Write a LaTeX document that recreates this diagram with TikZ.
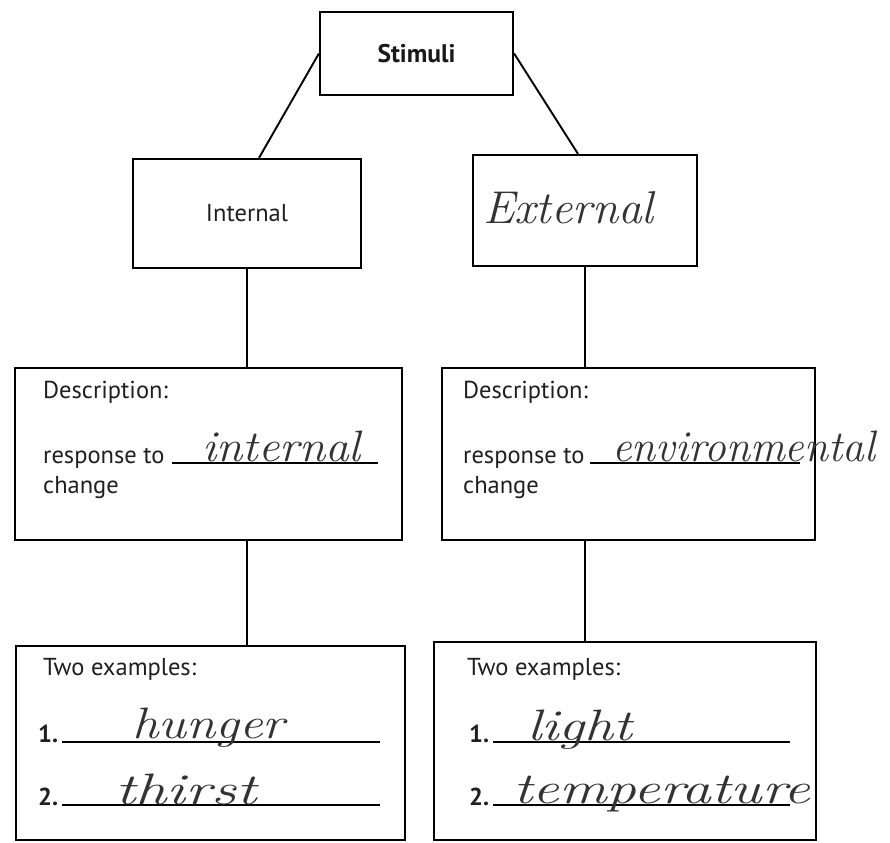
\documentclass[tikz,border=0pt]{standalone}
\usepackage{fontspec}
\setmainfont{PT Sans}
\newfontfamily\handfont{Latin Modern Roman}
\newcommand{\wide}[2]{\scalebox{#1}[1]{#2}}
\begin{document}
\begin{tikzpicture}[x=1pt,y=-1pt,
  box/.style={draw=black,line width=2.2pt,inner sep=0pt},
  link/.style={draw=black,line width=1.9pt},
  print/.style={anchor=base west,inner sep=0pt,font=\fontsize{24.5}{28}\selectfont,text=black!88},
  num/.style={print,font=\bfseries\fontsize{24.5}{28}\selectfont},
  hand/.style={anchor=base west,inner sep=0pt,font=\handfont\itshape\fontsize{44}{46}\selectfont,text=black!80},
  rule/.style={draw=black,line width=1.2pt}]
\useasboundingbox[fill=white] (0,0) rectangle (890,842);

% boxes
\node[box,minimum width=193pt,minimum height=83pt] (stim) at (416.5,53.5) {};
\node[box,minimum width=228pt,minimum height=109pt] (int) at (247,213.5) {};
\node[box,minimum width=224pt,minimum height=111pt] (ext) at (585,210.5) {};
\node[box,minimum width=387pt,minimum height=172pt] (descL) at (208.5,454) {};
\node[box,minimum width=373pt,minimum height=172pt] (descR) at (628.5,454) {};
\node[box,minimum width=389pt,minimum height=194pt] (exL) at (210.5,743) {};
\node[box,minimum width=382pt,minimum height=198pt] (exR) at (625,741) {};

% connectors
\draw[link] (stim.west) -- ([xshift=12pt]int.north);
\draw[link] (stim.east) -- ([xshift=-7pt]ext.north);
\draw[link] (int.south) -- (int.south |- descL.north);
\draw[link] (ext.south) -- (ext.south |- descR.north);
\draw[link] (int.south |- descL.south) -- (int.south |- exL.north);
\draw[link] (ext.south |- descR.south) -- (ext.south |- exR.north);

% titles
\node[font=\bfseries\fontsize{25.5}{28}\selectfont,text=black!90] (tstim) at (stim.center) {Stimuli};
\node[font=\fontsize{24.5}{28}\selectfont,text=black!88] (tint) at (int.center) {Internal};
\node[hand,font=\handfont\itshape\fontsize{46}{48}\selectfont] (text) at (483,223) {\wide{1.03}{External}};

% description, left
\node[print] (dl1) at (43,398) {Description:};
\node[print] (dl2) at (43,463) {response to};
\node[print] (dl3) at (43,493) {change};
\coordinate (ul1a) at (172,463);
\coordinate (ul1b) at (378,463);
\draw[rule] (ul1a) -- (ul1b);
\node[hand] (hint) at (202,461) {\wide{1.08}{internal}};

% description, right
\node[print] (dr1) at (463,398) {Description:};
\node[print] (dr2) at (463,463) {response to};
\node[print] (dr3) at (463,493) {change};
\coordinate (ur1a) at (590,463);
\coordinate (ur1b) at (800,463);
\draw[rule] (ur1a) -- (ur1b);
\node[hand] (henv) at (612,461) {\wide{0.99}{environmental}};

% examples, left
\node[print] (el0) at (43,675) {Two examples:};
\node[num] (el1) at (38,742) {1.};
\node[num] (el2) at (38,805) {2.};
\coordinate (l1a) at (62,742);
\coordinate (l1b) at (380,742);
\coordinate (l2a) at (62,805);
\coordinate (l2b) at (380,805);
\draw[rule] (l1a) -- (l1b);
\draw[rule] (l2a) -- (l2b);
\node[hand] (hhun) at (132,738) {\wide{1.2}{hunger}};
\node[hand] (hthi) at (115,804) {\wide{1.42}{thirst}};

% examples, right
\node[print] (er0) at (467,675) {Two examples:};
\node[num] (er1) at (469,742) {1.};
\node[num] (er2) at (469,805) {2.};
\coordinate (r1a) at (493,742);
\coordinate (r1b) at (790,742);
\coordinate (r2a) at (493,805);
\coordinate (r2b) at (790,805);
\draw[rule] (r1a) -- (r1b);
\draw[rule] (r2a) -- (r2b);
\node[hand] (hlig) at (527,740) {\wide{1.31}{light}};
\node[hand] (htem) at (513,803) {\wide{1.35}{temperature}};
\end{tikzpicture}
\end{document}
